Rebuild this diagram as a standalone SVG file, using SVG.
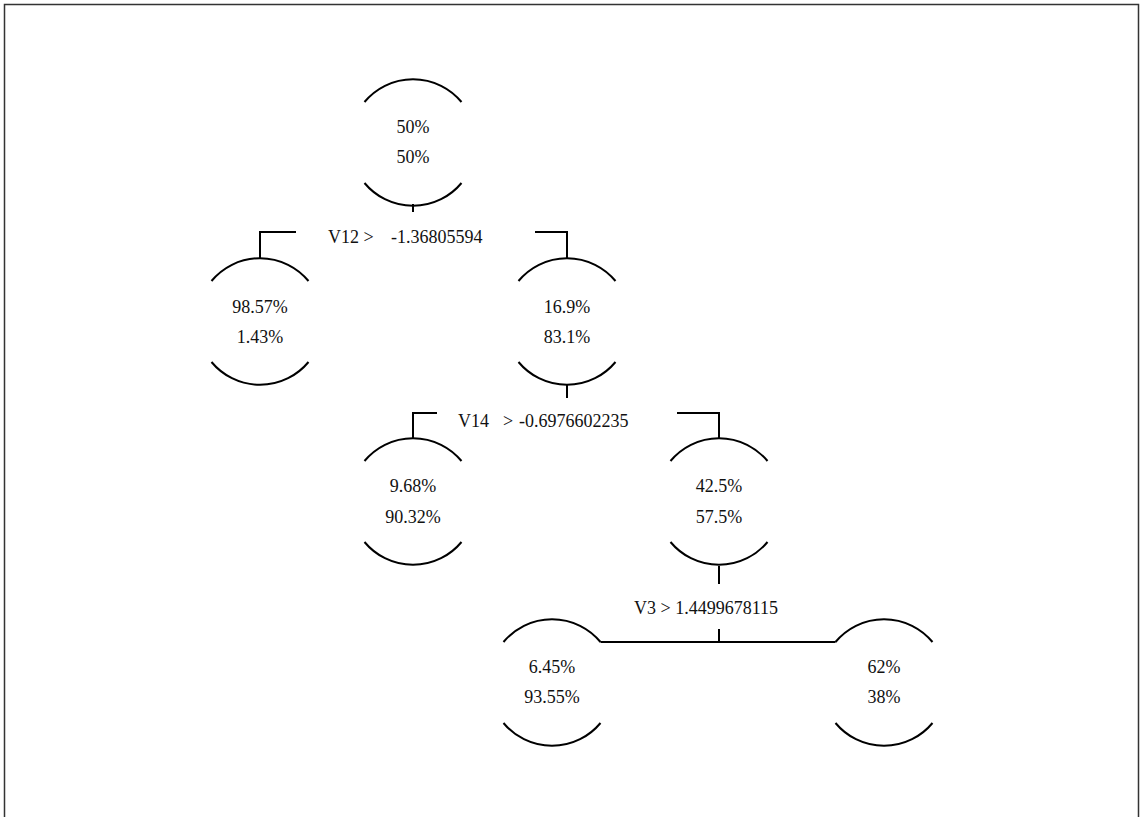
<svg xmlns="http://www.w3.org/2000/svg" width="1140" height="817" viewBox="0 0 1140 817">
<defs>
<style>
.frame{fill:none;stroke:#333;stroke-width:1.5}
.arc{fill:none;stroke:#000;stroke-width:2}
.conn{fill:none;stroke:#000;stroke-width:2}
text{font-family:"Liberation Serif","Times New Roman",serif;font-size:18px;fill:#111}
.nt{text-anchor:middle}
</style>
<path id="shape" d="M -48.5 23 A 63 63 0 0 1 48.5 23 M -48.5 104 A 63 63 0 0 0 48.5 104"/>
</defs>
<rect width="1140" height="817" fill="#fff"/>
<path class="frame" d="M 4.5 830 V 4.5 H 1138.5 V 830"/>

<g id="connectors">
<path class="conn" d="M 413 204 V 212"/>
<path class="conn" d="M 296 232 H 260 V 258"/>
<path class="conn" d="M 535 232 H 567 V 258"/>
<path class="conn" d="M 567 385 V 398"/>
<path class="conn" d="M 437 413 H 413 V 438"/>
<path class="conn" d="M 677 413 H 719 V 438"/>
<path class="conn" d="M 719 566 V 584"/>
<path class="conn" d="M 719 629 V 642"/>
<path class="conn" d="M 600.5 642 H 835.5"/>
<text id="label-v12"><tspan x="328" y="243">V12 &gt;</tspan><tspan x="391" y="243">-1.36805594</tspan></text>
<text id="label-v14"><tspan x="458" y="427">V14</tspan><tspan x="503" y="427">&gt;</tspan><tspan x="519" y="427">-0.6976602235</tspan></text>
<text id="label-v3" x="634" y="614">V3 &gt; 1.4499678115</text>
</g>

<g id="node-root" transform="translate(413,79)">
<use href="#shape" class="arc"/>
<text class="nt" x="0" y="54">50%</text>
<text class="nt" x="0" y="84">50%</text>
</g>
<g id="node-l2-left" transform="translate(260,258)">
<use href="#shape" class="arc"/>
<text class="nt" x="0" y="55">98.57%</text>
<text class="nt" x="0" y="85">1.43%</text>
</g>
<g id="node-l2-right" transform="translate(567,258)">
<use href="#shape" class="arc"/>
<text class="nt" x="0" y="55">16.9%</text>
<text class="nt" x="0" y="85">83.1%</text>
</g>
<g id="node-l3-left" transform="translate(413,438)">
<use href="#shape" class="arc"/>
<text class="nt" x="0" y="54">9.68%</text>
<text class="nt" x="0" y="85">90.32%</text>
</g>
<g id="node-l3-right" transform="translate(719,438)">
<use href="#shape" class="arc"/>
<text class="nt" x="0" y="54">42.5%</text>
<text class="nt" x="0" y="85">57.5%</text>
</g>
<g id="node-l4-left" transform="translate(552,619)">
<use href="#shape" class="arc"/>
<text class="nt" x="0" y="54">6.45%</text>
<text class="nt" x="0" y="84">93.55%</text>
</g>
<g id="node-l4-right" transform="translate(884,619)">
<use href="#shape" class="arc"/>
<text class="nt" x="0" y="54">62%</text>
<text class="nt" x="0" y="84">38%</text>
</g>
</svg>
